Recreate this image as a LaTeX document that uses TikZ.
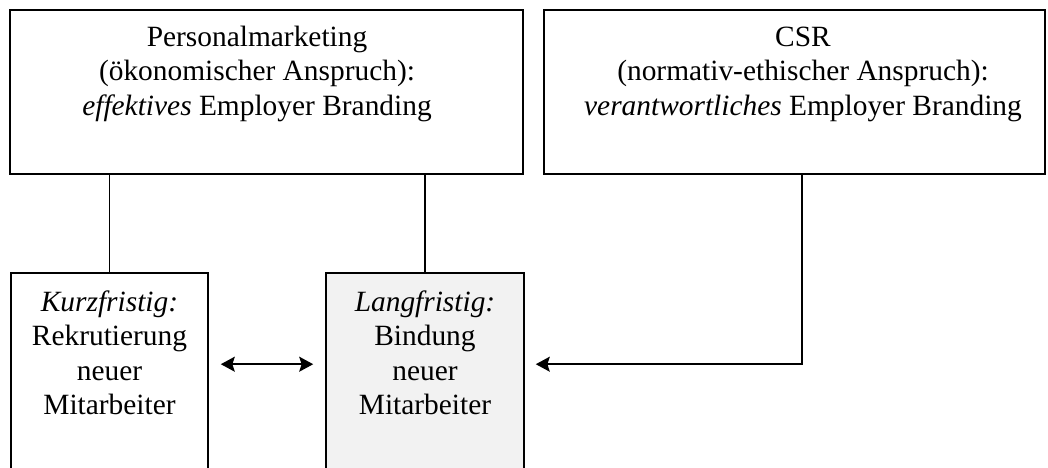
\documentclass[tikz,border=0pt]{standalone}
\usepackage{fontspec}
\setmainfont{Liberation Serif}
\usetikzlibrary{arrows.meta, positioning, calc}

\begin{document}
\begin{tikzpicture}[
        x=0.5pt, y=-0.5pt,
        brandBox/.style={
            draw=black,
            line width=0.8pt,
            inner sep=0pt
        },
        goalBox/.style={
            brandBox,
            minimum height=150pt
        },
        boxText/.style={
            font=\fontsize{14.7pt}{17.25pt}\selectfont,
            align=center,
            inner sep=0pt,
            anchor=base
        },
        link/.style={
            line width=0.8pt
        },
        pointer/.style={
            -{Stealth[length=7pt, width=7.5pt, inset=1.2pt]},
            line width=0.8pt
        },
        twoWay/.style={
            {Stealth[length=7pt, width=7.5pt, inset=1.2pt]}-{Stealth[length=7pt, width=7.5pt, inset=1.2pt]},
            line width=0.8pt
        }
    ]

        \useasboundingbox (0,0) rectangle (1048,467);

        % Top boxes
        \node[brandBox, minimum width=256.5pt, minimum height=82pt] (pm) at (266.5,92) {};
        \node[brandBox, minimum width=250.5pt, minimum height=82pt] (csr) at (794.5,92) {};

        % Goal boxes (cut off at the bottom)
        \node[goalBox, minimum width=98.5pt] (kurz) at (109.5,423) {};
        \node[goalBox, minimum width=99pt, fill=gray!10] (lang) at (425,423) {};

        % Texts (base = last line)
        \node[boxText] (pmText) at ($(pm.north)+(-9.5,106)$)
            {Personalmarketing\\(ökonomischer Anspruch):\\\textit{effektives} Employer Branding};
        \node[boxText] (csrText) at ($(csr.north)+(8.5,106)$)
            {CSR\\(normativ-ethischer Anspruch):\\\textit{verantwortliches} Employer Branding};
        \node[boxText] (kurzText) at ($(kurz.north)+(0,142.5)$)
            {\textit{Kurzfristig:}\\Rekrutierung\\neuer\\Mitarbeiter};
        \node[boxText] (langText) at ($(lang.north)+(0,142.5)$)
            {\textit{Langfristig:}\\Bindung\\neuer\\Mitarbeiter};

        % Connections
        \draw[link] (kurz.north) -- (kurz.north |- pm.south);
        \draw[link] (lang.north) -- (lang.north |- pm.south);

        \draw[twoWay]
            ($(kurz.north east)+(12,92)$) -- ($(lang.north west)+(-12,92)$);

        \draw[pointer]
            ($(csr.south)+(7.5,0)$) |- ($(lang.north east)+(11,92)$);

    \end{tikzpicture}
\end{document}
